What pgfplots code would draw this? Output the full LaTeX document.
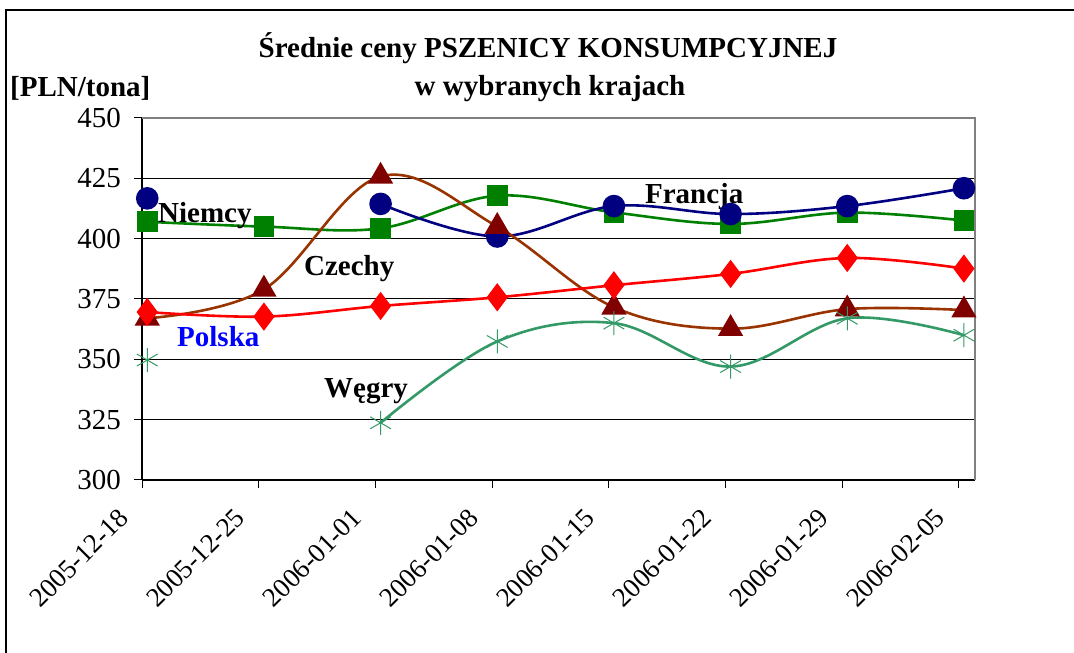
\documentclass[border=0pt]{standalone}
\usepackage{pgfplots}
\pgfplotsset{compat=1.18}
\usepackage{fontspec}
\setmainfont{Liberation Serif}
\newfontfamily\tickfont{Liberation Serif}
\definecolor{niemcy}{RGB}{0,0,128}
\definecolor{francja}{RGB}{0,128,0}
\definecolor{czechyM}{RGB}{128,0,0}
\definecolor{czechyL}{RGB}{153,51,0}
\definecolor{polska}{RGB}{255,0,0}
\definecolor{wegry}{RGB}{51,153,102}
\begin{document}
\begin{tikzpicture}
\path[use as bounding box] (0,0) rectangle (1074pt,653pt);
\draw[line width=2pt] (6pt,0) -- (6pt,643pt) -- (1074pt,643pt);
\node[anchor=base, inner sep=0pt, font=\fontsize{29}{30}\selectfont\bfseries] at (548pt,595pt) {Średnie ceny PSZENICY KONSUMPCYJNEJ};
\node[anchor=base, inner sep=0pt, font=\fontsize{29}{30}\selectfont\bfseries] at (550pt,557pt) {w wybranych krajach};
\node[anchor=base west, inner sep=0pt, font=\fontsize{29}{30}\selectfont\bfseries] at (10pt,556pt) {[PLN/tona]};
\begin{axis}[
  at={(142pt,173pt)}, anchor=south west,
  scale only axis, width=833pt, height=362pt,
  xmin=0, xmax=7.14, ymin=300, ymax=450,
  axis lines*=left,
  axis line style={black, line width=1.2pt},
  xtick={0,1,2,3,4,5,6,7},
  xticklabels={2005-12-18,2005-12-25,2006-01-01,2006-01-08,2006-01-15,2006-01-22,2006-01-29,2006-02-05},
  ytick={300,325,350,375,400,425,450},
  tick align=outside, major tick length=8pt,
  tick style={black, line width=1pt},
  ymajorgrids, grid style={black, line width=1pt},
  /pgf/number format/assume math mode=true,
  ticklabel style={font=\tickfont\fontsize{29}{30}\selectfont},
  xticklabel style={font=\tickfont\fontsize{27}{28}\selectfont, xshift=-25pt, yshift=-16pt, rotate=45, anchor=north east, inner sep=2pt},
  yticklabel style={inner sep=0pt, xshift=-13pt},
  clip=false,
  every axis plot/.append style={line width=2.6pt},
]
\draw[gray, line width=1.2pt] (rel axis cs:0,1) -- (rel axis cs:1,1) -- (rel axis cs:1,0);
% Francja
\addplot[francja, smooth, tension=0.6, mark=square*, mark size=9pt, mark options={solid}] coordinates {
(0.045,407) (1.045,405) (2.045,404.3) (3.045,417.8) (4.045,410.9) (5.045,406.1) (6.045,410.8) (7.045,407.5)};
% Niemcy
\addplot[niemcy, only marks, mark=*, mark size=10pt] coordinates {(0.045,416.7)};
\addplot[niemcy, smooth, tension=0.6, mark=*, mark size=10pt] coordinates {
(2.045,414.4) (3.045,400.9) (4.045,413.5) (5.045,410.2) (6.045,413.5) (7.045,420.9)};
% Czechy
\addplot[czechyL, smooth, tension=0.6, mark=triangle*, mark size=12pt, mark options={fill=czechyM, draw=czechyM}] coordinates {
(0.045,367) (1.045,379) (2.045,425.8) (3.045,405) (4.045,371.6) (5.045,362.7) (6.045,370.8) (7.045,370.4)};
% Polska
\addplot[polska, smooth, tension=0.6, mark=diamond*, mark size=12pt] coordinates {
(0.045,369.6) (1.045,367.7) (2.045,372.1) (3.045,375.7) (4.045,380.7) (5.045,385.4) (6.045,392) (7.045,387.6)};
% Wegry
\addplot[wegry, only marks, mark=asterisk, mark size=12pt, mark options={line width=1pt}] coordinates {(0.045,349.7)};
\addplot[wegry, smooth, tension=0.6, mark=asterisk, mark size=12pt, mark options={line width=1pt}] coordinates {
(2.045,323.7) (3.045,357.4) (4.045,365) (5.045,347) (6.045,367) (7.045,360)};
\node[anchor=base west, inner sep=0pt, font=\fontsize{29}{30}\selectfont\bfseries] at (axis cs:0.137,406.9) {Niemcy};
\node[anchor=base west, inner sep=0pt, font=\fontsize{29}{30}\selectfont\bfseries] at (axis cs:4.31,414.4) {Francja};
\node[anchor=base west, inner sep=0pt, font=\fontsize{29}{30}\selectfont\bfseries] at (axis cs:1.388,384.9) {Czechy};
\node[anchor=base west, inner sep=0pt, text=blue, font=\fontsize{29}{30}\selectfont\bfseries] at (axis cs:0.30,355.5) {Polska};
\node[anchor=base west, inner sep=0pt, font=\fontsize{29}{30}\selectfont\bfseries] at (axis cs:1.56,334.1) {Węgry};
\end{axis}
\end{tikzpicture}
\end{document}
